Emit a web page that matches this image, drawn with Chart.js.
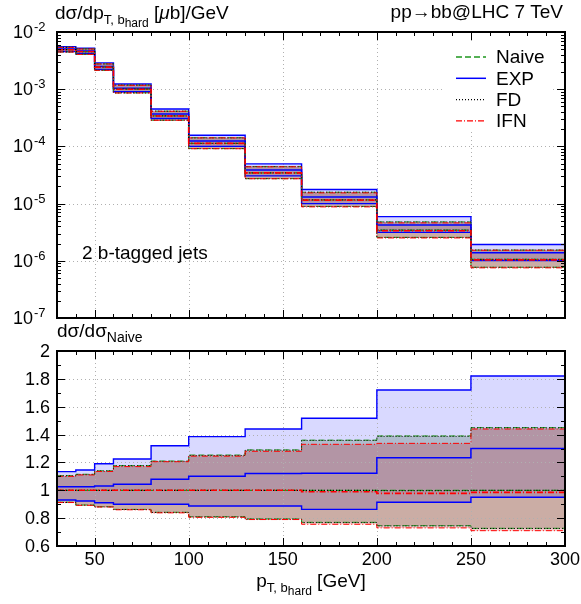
<!DOCTYPE html>
<html>
<head>
<meta charset="utf-8">
<script src="https://cdn.jsdelivr.net/npm/chart.js@4.4.1/dist/chart.umd.min.js"></script>
<style>
    html, body { margin: 0; padding: 0; background: #fff; }
    #wrap { position: relative; width: 581px; height: 604px; }
    #wrap canvas { position: absolute; left: 0; top: 0; }
</style>
</head>
<body>
<div id="wrap">
    <canvas id="topChart" width="581" height="604"></canvas>
    <canvas id="ratioChart" width="581" height="604"></canvas>
</div>
<script>
// bin edges in GeV
const binEdges = [30, 40, 50, 60, 80, 100, 130, 160, 200, 250, 300];

// upper panel: dsigma/dpT [ub/GeV]
const naiveTop = [4.9e-3, 4.55e-3, 2.43e-3, 1.0e-3, 3.41e-4, 1.13e-4, 3.44e-5, 1.16e-5, 3.44e-6, 1.06e-6];
const naiveTopHi = [5.41e-3, 5.07e-3, 2.77e-3, 1.18e-3, 4.13e-4, 1.42e-4, 4.44e-5, 1.58e-5, 4.78e-6, 1.54e-6];
const naiveTopLo = [4.48e-3, 4.07e-3, 2.14e-3, 8.63e-4, 2.87e-4, 9.15e-5, 2.73e-5, 8.93e-6, 2.57e-6, 7.71e-7];
const expTop = [5.03e-3, 4.67e-3, 2.50e-3, 1.04e-3, 3.68e-4, 1.24e-4, 3.85e-5, 1.30e-5, 4.24e-6, 1.38e-6];
const expTopHi = [5.56e-3, 5.21e-3, 2.89e-3, 1.23e-3, 4.50e-4, 1.57e-4, 4.95e-5, 1.76e-5, 5.92e-6, 1.93e-6];
const expTopLo = [4.56e-3, 4.20e-3, 2.21e-3, 9.0e-4, 3.07e-4, 1.0e-4, 3.05e-5, 1.0e-5, 3.14e-6, 1.01e-6];
const fdTop = [4.9e-3, 4.55e-3, 2.43e-3, 1.0e-3, 3.41e-4, 1.13e-4, 3.44e-5, 1.16e-5, 3.43e-6, 1.06e-6];
const fdTopHi = [5.40e-3, 5.06e-3, 2.77e-3, 1.18e-3, 4.12e-4, 1.41e-4, 4.43e-5, 1.58e-5, 4.77e-6, 1.54e-6];
const fdTopLo = [4.48e-3, 4.07e-3, 2.14e-3, 8.62e-4, 2.87e-4, 9.14e-5, 2.73e-5, 8.92e-6, 2.56e-6, 7.70e-7];
const ifnTop = [4.9e-3, 4.55e-3, 2.43e-3, 1.0e-3, 3.41e-4, 1.13e-4, 3.44e-5, 1.15e-5, 3.36e-6, 1.04e-6];
const ifnTopHi = [5.39e-3, 5.05e-3, 2.76e-3, 1.17e-3, 4.11e-4, 1.41e-4, 4.40e-5, 1.54e-5, 4.60e-6, 1.53e-6];
const ifnTopLo = [4.47e-3, 4.06e-3, 2.14e-3, 8.6e-4, 2.86e-4, 9.11e-5, 2.72e-5, 8.77e-6, 2.51e-6, 7.53e-7];

// lower panel: ratio to Naive
const naiveRatio = [1, 1, 1, 1, 1, 1, 1, 1, 1, 1];
const naiveRatioHi = [1.105, 1.115, 1.14, 1.177, 1.21, 1.253, 1.29, 1.36, 1.39, 1.45];
const naiveRatioLo = [0.914, 0.894, 0.882, 0.863, 0.842, 0.81, 0.794, 0.77, 0.746, 0.727];
const expRatio = [1.026, 1.026, 1.03, 1.043, 1.079, 1.10, 1.12, 1.122, 1.234, 1.30];
const expRatioHi = [1.134, 1.146, 1.19, 1.225, 1.32, 1.385, 1.44, 1.517, 1.72, 1.82];
const expRatioLo = [0.93, 0.923, 0.911, 0.90, 0.90, 0.887, 0.887, 0.863, 0.914, 0.95];
const fdRatio = [1, 1, 1, 1, 1, 1, 1, 1, 0.998, 1];
const fdRatioHi = [1.104, 1.114, 1.139, 1.176, 1.208, 1.25, 1.288, 1.358, 1.387, 1.448];
const fdRatioLo = [0.913, 0.893, 0.881, 0.862, 0.841, 0.809, 0.793, 0.768, 0.744, 0.726];
const ifnRatio = [1, 1, 1, 1, 1, 1, 1, 0.99, 0.978, 0.985];
const ifnRatioHi = [1.10, 1.11, 1.135, 1.17, 1.205, 1.245, 1.28, 1.33, 1.337, 1.44];
const ifnRatioLo = [0.912, 0.892, 0.88, 0.86, 0.838, 0.806, 0.79, 0.756, 0.73, 0.71];

// ticks
const xTickLabels = [50, 100, 150, 200, 250, 300];
const topTickExponents = [-2, -3, -4, -5, -6, -7];
const ratioTickLabels = [0.6, 0.8, 1, 1.2, 1.4, 1.6, 1.8, 2];

const legendLabels = ["Naive", "EXP", "FD", "IFN"];

const FONT = '"Liberation Sans", Arial, Helvetica, sans-serif';
const font = (size, style = "") => `${style} ${size}px ${FONT}`.trim();

const styles = {
    naive: { color: "#1e961e", dash: [6, 3], fill: "rgba(0, 128, 0, 0.10)" },
    exp: { color: "#0000ff", dash: [], fill: "rgba(0, 0, 255, 0.15)" },
    fd: { color: "#000000", dash: [1, 2], fill: "rgba(0, 0, 0, 0.10)" },
    ifn: { color: "#ff0000", dash: [6, 2, 1, 2], fill: "rgba(190, 0, 0, 0.20)" },
};

const steps = (values) => values.map((v, i) => ({ x: binEdges[i], y: v }))
    .concat({ x: binEdges[binEdges.length - 1], y: values[values.length - 1] });

const line = (values, style, width, fill) => ({
    data: steps(values),
    borderColor: style.color,
    borderDash: style.dash,
    borderWidth: width,
    backgroundColor: fill ? style.fill : "transparent",
    fill: fill ? "+1" : false,
    stepped: "before",
    pointRadius: 0,
    tension: 0,
});

// first dataset is drawn on top, so the blue band goes last
const panelDatasets = (s) => [
    line(s.ifn[0], styles.ifn, 1.6),
    line(s.fd[0], styles.fd, 1.2),
    line(s.naive[0], styles.naive, 1.2),
    line(s.exp[0], styles.exp, 1.5),
    line(s.ifn[1], styles.ifn, 1, true), line(s.ifn[2], styles.ifn, 1),
    line(s.fd[1], styles.fd, 1, true), line(s.fd[2], styles.fd, 1),
    line(s.naive[1], styles.naive, 1, true), line(s.naive[2], styles.naive, 1),
    line(s.exp[1], styles.exp, 1.4, true), line(s.exp[2], styles.exp, 1.4),
];

const drawRich = (ctx, parts, x, y, align = "left") => {
    const widths = parts.map(([text, size, , style]) => {
        ctx.font = font(size, style);
        return ctx.measureText(text).width;
    });
    const total = widths.reduce((a, b) => a + b, 0);
    let cx = align === "center" ? x - total / 2 : align === "right" ? x - total : x;
    ctx.textAlign = "left";
    ctx.textBaseline = "alphabetic";
    parts.forEach(([text, size, dy, style], i) => {
        ctx.font = font(size, style);
        ctx.fillText(text, cx, y + (dy || 0));
        cx += widths[i];
    });
};

const xMinor = [];
for (let v = 40; v < 300; v += 10) xMinor.push(v);

const framePlugin = {
    id: "frame",
    beforeDatasetsDraw(chart, args, opts) {
        const { ctx, chartArea: a, scales: { x, y } } = chart;
        ctx.save();
        ctx.strokeStyle = "#b0b0b0";
        ctx.lineWidth = 1;
        ctx.setLineDash([1, 3]);
        ctx.beginPath();
        xTickLabels.slice(0, -1).forEach((v) => {
            const px = Math.round(x.getPixelForValue(v)) + 0.5;
            ctx.moveTo(px, a.top);
            ctx.lineTo(px, a.bottom);
        });
        opts.yGrid.forEach((v) => {
            const py = Math.round(y.getPixelForValue(v)) + 0.5;
            ctx.moveTo(a.left, py);
            ctx.lineTo(a.right, py);
        });
        ctx.stroke();
        ctx.restore();
    },
    afterDatasetsDraw(chart, args, opts) {
        const { ctx, chartArea: a, scales: { x, y } } = chart;
        ctx.save();
        ctx.strokeStyle = "#000";
        ctx.lineWidth = 1;
        ctx.setLineDash([]);
        ctx.beginPath();
        xMinor.forEach((v) => {
            const px = Math.round(x.getPixelForValue(v)) + 0.5;
            const len = xTickLabels.includes(v) ? 8 : 4;
            ctx.moveTo(px, a.bottom); ctx.lineTo(px, a.bottom - len);
            ctx.moveTo(px, a.top); ctx.lineTo(px, a.top + len);
        });
        opts.yMajor.forEach((v) => {
            const py = Math.round(y.getPixelForValue(v)) + 0.5;
            ctx.moveTo(a.left, py); ctx.lineTo(a.left + 8, py);
            ctx.moveTo(a.right, py); ctx.lineTo(a.right - 8, py);
        });
        opts.yMinor.forEach((v) => {
            const py = Math.round(y.getPixelForValue(v)) + 0.5;
            ctx.moveTo(a.left, py); ctx.lineTo(a.left + 4, py);
            ctx.moveTo(a.right, py); ctx.lineTo(a.right - 4, py);
        });
        ctx.stroke();
        ctx.lineWidth = 2;
        ctx.strokeRect(a.left, a.top, a.right - a.left, a.bottom - a.top);

        if (opts.legend) {
            ctx.fillStyle = "#fff";
            ctx.fillRect(444, 41, 107, 90);
            const keys = ["naive", "exp", "fd", "ifn"];
            legendLabels.forEach((label, i) => {
                const yy = 57 + i * 21.3;
                const st = styles[keys[i]];
                ctx.strokeStyle = st.color;
                ctx.lineWidth = keys[i] === "exp" ? 1.5 : 1.3;
                ctx.setLineDash(st.dash);
                ctx.beginPath();
                ctx.moveTo(456, yy);
                ctx.lineTo(486, yy);
                ctx.stroke();
                ctx.fillStyle = "#000";
                ctx.font = font(19);
                ctx.textAlign = "left";
                ctx.textBaseline = "middle";
                ctx.fillText(label, 496, yy + 1);
            });
        }
        ctx.restore();
    },
    afterDraw(chart, args, opts) {
        const { ctx, chartArea: a, scales: { x, y } } = chart;
        ctx.save();
        ctx.fillStyle = "#000";
        if (opts.mode === "top") {
            topTickExponents.forEach((e) => {
                const py = y.getPixelForValue(Math.pow(10, e));
                ctx.font = font(18);
                ctx.textAlign = "right";
                ctx.textBaseline = "middle";
                ctx.fillText("10", 33, py + 1);
                ctx.font = font(13);
                ctx.textAlign = "left";
                ctx.textBaseline = "alphabetic";
                ctx.fillText(String(e), 34, py - 1);
            });
            drawRich(ctx, [["dσ/dp", 19, 0], ["T, b", 13, 5], ["hard", 12, 8], [" [", 19, 0], ["μ", 19, 0, "italic"], ["b]/GeV", 19, 0]], 55, 19);
            drawRich(ctx, [["pp→bb@LHC 7 TeV", 19, 0]], 563, 18, "right");
            drawRich(ctx, [["2 b-tagged jets", 19, 0]], 82, 259);
        } else {
            ratioTickLabels.forEach((v) => {
                const py = y.getPixelForValue(v);
                ctx.font = font(18);
                ctx.textAlign = "right";
                ctx.textBaseline = "middle";
                ctx.fillText(String(v), 50, py + 1);
            });
            xTickLabels.forEach((v) => {
                ctx.font = font(18);
                ctx.textAlign = "center";
                ctx.textBaseline = "alphabetic";
                ctx.fillText(String(v), x.getPixelForValue(v), 565);
            });
            drawRich(ctx, [["dσ/dσ", 19, 0], ["Naive", 14, 5]], 57, 337);
            drawRich(ctx, [["p", 19, 0], ["T, b", 13, 5], ["hard", 12, 8], [" [GeV]", 19, 0]], (a.left + a.right) / 2, 587, "center");
        }
        ctx.restore();
    },
};

const logMajor = topTickExponents.map((e) => Math.pow(10, e));
const logMinor = [];
topTickExponents.slice(1).forEach((e) => {
    for (let m = 2; m <= 9; m++) logMinor.push(m * Math.pow(10, e));
});
const ratioMinor = [0.7, 0.9, 1.1, 1.3, 1.5, 1.7, 1.9];

const baseOptions = (padding, yScale, frame) => ({
    responsive: false,
    animation: false,
    events: [],
    layout: { padding },
    scales: {
        x: { type: "linear", min: 30, max: 300, display: false },
        y: Object.assign({ display: false }, yScale),
    },
    plugins: {
        legend: { display: false },
        tooltip: { enabled: false },
        filler: { drawTime: "beforeDatasetsDraw" },
        frame,
    },
});

new Chart(document.getElementById("topChart"), {
    type: "line",
    data: {
        datasets: panelDatasets({
            naive: [naiveTop, naiveTopHi, naiveTopLo],
            exp: [expTop, expTopHi, expTopLo],
            fd: [fdTop, fdTopHi, fdTopLo],
            ifn: [ifnTop, ifnTopHi, ifnTopLo],
        }),
    },
    options: baseOptions(
        { left: 57, right: 16, top: 32, bottom: 286 },
        { type: "logarithmic", min: 1e-7, max: 1e-2 },
        { mode: "top", legend: true, yMajor: logMajor, yMinor: logMinor, yGrid: logMajor.slice(1, -1) }
    ),
    plugins: [framePlugin],
});

new Chart(document.getElementById("ratioChart"), {
    type: "line",
    data: {
        datasets: panelDatasets({
            naive: [naiveRatio, naiveRatioHi, naiveRatioLo],
            exp: [expRatio, expRatioHi, expRatioLo],
            fd: [fdRatio, fdRatioHi, fdRatioLo],
            ifn: [ifnRatio, ifnRatioHi, ifnRatioLo],
        }),
    },
    options: baseOptions(
        { left: 57, right: 16, top: 351, bottom: 58 },
        { type: "linear", min: 0.6, max: 2 },
        { mode: "ratio", legend: false, yMajor: ratioTickLabels, yMinor: ratioMinor, yGrid: ratioTickLabels.slice(1, -1) }
    ),
    plugins: [framePlugin],
});
</script>
</body>
</html>
